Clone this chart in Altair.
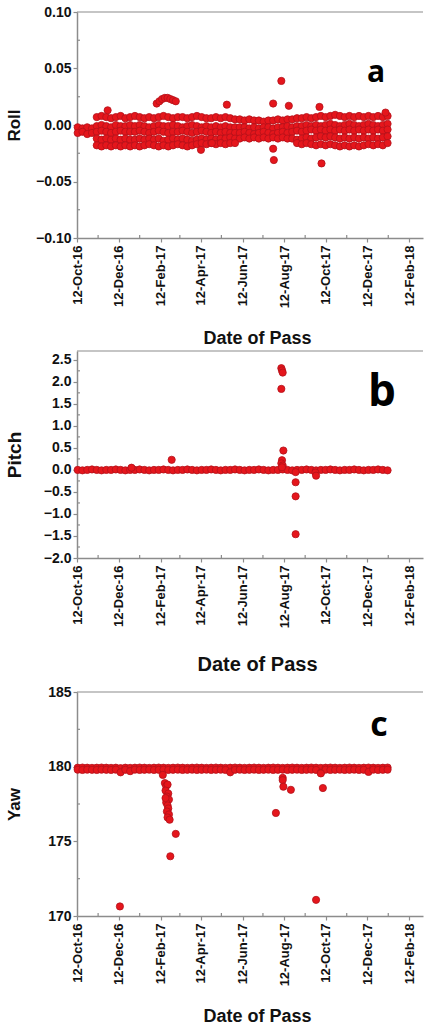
import altair as alt
import pandas as pd

# ---------------- data ----------------
# weekly pass dates for the dense bands
band_dates = [
    "2016-10-13", "2016-10-20", "2016-10-27", "2016-11-03", "2016-11-10", "2016-11-17",
    "2016-11-24", "2016-12-01", "2016-12-08", "2016-12-15", "2016-12-22", "2016-12-29",
    "2017-01-05", "2017-01-12", "2017-01-19", "2017-01-26", "2017-02-02", "2017-02-09",
    "2017-02-16", "2017-02-23", "2017-03-02", "2017-03-09", "2017-03-16", "2017-03-23",
    "2017-03-30", "2017-04-06", "2017-04-13", "2017-04-20", "2017-04-27", "2017-05-04",
    "2017-05-11", "2017-05-18", "2017-05-25", "2017-06-01", "2017-06-08", "2017-06-15",
    "2017-06-22", "2017-06-29", "2017-07-06", "2017-07-13", "2017-07-20", "2017-07-27",
    "2017-08-03", "2017-08-10", "2017-08-17", "2017-08-24", "2017-08-31", "2017-09-07",
    "2017-09-14", "2017-09-21", "2017-09-28", "2017-10-05", "2017-10-12", "2017-10-19",
    "2017-10-26", "2017-11-02", "2017-11-09", "2017-11-16", "2017-11-23", "2017-11-30",
    "2017-12-07", "2017-12-14", "2017-12-21", "2017-12-28", "2018-01-04", "2018-01-11",
]

# Roll band tracks
roll_t1 = [None, None, None, None,
           0.007, 0.008, 0.007, 0.006, 0.007, 0.008, 0.006, 0.007,
           0.008, 0.007, 0.006, 0.007, 0.006, 0.007, 0.008, 0.007, 0.006, 0.007, 0.007,
           0.006, 0.007, 0.008, 0.007, 0.006, 0.006, 0.007, 0.006, 0.007, 0.006, 0.005,
           0.005, 0.004, 0.005, 0.004, 0.004, 0.003, 0.004, 0.004, 0.005, 0.004, 0.005,
           0.005, 0.006, 0.006, 0.007, 0.006, 0.007, 0.008, 0.007, 0.008, 0.009, 0.008,
           0.007, 0.008, 0.007, 0.008, 0.007, 0.008, 0.007, 0.008, 0.007, 0.008]
roll_t2 = [-0.002, -0.003, -0.002, -0.003,
           -0.001, 0.000, -0.001, -0.002, 0.000, -0.001, -0.001, 0.000,
           -0.001, 0.000, -0.001, -0.002, -0.001, 0.000, -0.001, -0.001, 0.000, -0.001, -0.002,
           -0.001, 0.000, -0.001, -0.002, -0.001, -0.002, -0.001, -0.002, -0.001, -0.002, -0.002,
           -0.002, -0.002, -0.003, -0.002, -0.003, -0.002, -0.002, -0.003, -0.002, -0.002, -0.001,
           -0.002, -0.001, -0.001, 0.000, -0.001, 0.000, -0.001, 0.000, 0.001, 0.000, -0.001,
           0.000, 0.001, 0.000, -0.001, 0.000, 0.001, 0.000, -0.001, 0.000, 0.001]
roll_t3 = [-0.007, -0.006, -0.008, -0.007,
           -0.006, -0.005, -0.006, -0.007, -0.006, -0.005, -0.006, -0.006,
           -0.006, -0.005, -0.006, -0.007, -0.006, -0.005, -0.006, -0.007, -0.006, -0.006, -0.005,
           -0.006, -0.007, -0.006, -0.005, -0.006, -0.007, -0.006, -0.007, -0.006, -0.007, -0.007,
           -0.007, -0.006, -0.007, -0.008, -0.007, -0.006, -0.007, -0.008, -0.007, -0.006, -0.007,
           -0.006, -0.005, -0.006, -0.005, -0.004, -0.005, -0.004, -0.005, -0.004, -0.005, -0.004,
           -0.005, -0.004, -0.005, -0.004, -0.005, -0.004, -0.005, -0.004, -0.005, -0.004]
roll_t4 = [None, None, None, None,
           -0.012, -0.013, -0.012, -0.013, -0.012, -0.013, -0.012, -0.013,
           -0.013, -0.012, -0.013, -0.012, -0.013, -0.012, -0.014, -0.013, -0.012, -0.013, -0.012,
           -0.013, -0.014, -0.013, -0.012, -0.013, -0.012, -0.013, -0.012, -0.012, -0.011, -0.012,
           -0.012, -0.011, -0.012, -0.011, -0.012, -0.011, -0.012, -0.011, -0.012, -0.011, -0.012,
           -0.012, -0.013, -0.012, -0.011, -0.012, -0.011, -0.010, -0.011, -0.010, -0.011, -0.012,
           -0.011, -0.012, -0.011, -0.012, -0.011, -0.012, -0.011, -0.012, -0.011, -0.010]
roll_t5 = [None, None, None, None,
           -0.018, -0.019, -0.018, -0.019, -0.018, -0.019, -0.018, -0.019,
           -0.018, -0.019, -0.018, -0.017, -0.018, -0.019, -0.018, -0.019, -0.018, -0.017, -0.018,
           -0.019, -0.018, -0.017, -0.016, -0.017, -0.016, -0.017, -0.016, -0.017, -0.016, -0.016,
           None, None, None, None, None, None, None, None, None, None, None, None,
           -0.016, -0.017, -0.016, -0.017, -0.018, -0.017, -0.018, -0.017, -0.018, -0.019,
           -0.018, -0.019, -0.018, -0.019, -0.018, -0.017, -0.018, -0.017, -0.018, -0.016]
roll_out_dates = ["2016-11-26", "2017-02-06", "2017-02-10", "2017-02-14", "2017-02-18",
                  "2017-02-22", "2017-02-26", "2017-03-02", "2017-03-06", "2017-04-12",
                  "2017-04-28", "2017-05-20", "2017-07-27", "2017-07-27", "2017-07-28",
                  "2017-08-08", "2017-08-19", "2017-10-03", "2017-10-06", "2018-01-08"]
roll_out_vals = [0.013, 0.019, 0.021, 0.023, 0.024,
                 0.024, 0.023, 0.022, 0.021, -0.022,
                 -0.016, 0.018, 0.019, -0.021, -0.031,
                 0.039, 0.017, 0.016, -0.034, 0.011]

# Pitch band
pitch_t1 = [0.00, -0.01, 0.00, 0.01, 0.00, -0.01, 0.00, 0.00, 0.01, 0.00, -0.01, 0.00,
            0.00, 0.01, 0.00, -0.01, 0.00, 0.00, 0.01, 0.00, -0.01, 0.00, 0.00, 0.01,
            0.00, -0.01, 0.00, 0.00, 0.01, 0.00, -0.01, 0.00, 0.00, 0.01, 0.00, -0.01,
            0.00, 0.00, 0.01, 0.00, -0.01, 0.00, 0.00, 0.01, 0.00, -0.01, 0.00, 0.00,
            0.01, 0.00, -0.01, 0.00, 0.00, 0.01, 0.00, -0.01, 0.00, 0.00, 0.01, 0.00,
            -0.01, 0.00, 0.00, 0.01, 0.00, -0.01]
pitch_out_dates = ["2016-12-31", "2017-02-28", "2017-08-08", "2017-08-09", "2017-08-10",
                   "2017-08-08", "2017-08-11", "2017-08-09", "2017-08-08", "2017-08-10",
                   "2017-08-09", "2017-08-29", "2017-08-29", "2017-08-29", "2017-08-29",
                   "2017-09-27", "2017-09-28"]
pitch_out_vals = [0.05, 0.23, 2.31, 2.26, 2.21,
                  1.84, 0.44, 0.22, 0.15, 0.10,
                  0.06, -0.05, -0.28, -0.60, -1.46,
                  -0.06, -0.13]

# Yaw band
yaw_t1 = [179.93, 179.94, 179.93, 179.92, 179.93, 179.94, 179.93, 179.92, 179.93, 179.90,
          179.93, 179.92, 179.93, 179.94, 179.93, 179.92, 179.93, 179.94, 179.93, 179.92,
          179.93, 179.94, 179.93, 179.92, 179.93, 179.94, 179.93, 179.92, 179.93, 179.94,
          179.93, 179.92, 179.93, 179.94, 179.93, 179.92, 179.93, 179.94, 179.93, 179.92,
          179.93, 179.94, 179.93, 179.92, 179.93, 179.94, 179.93, 179.92, 179.93, 179.94,
          179.93, 179.92, 179.93, 179.94, 179.93, 179.92, 179.93, 179.94, 179.93, 179.92,
          179.93, 179.94, 179.93, 179.92, 179.93, 179.94]
yaw_t2 = [179.80, 179.78, 179.80, 179.79, 179.78, 179.80, 179.79, 179.78, 179.80, 179.62,
          179.79, 179.70, 179.80, 179.78, 179.79, 179.80, 179.78, 179.79, 179.80, 179.78,
          179.79, 179.80, 179.78, 179.79, 179.80, 179.78, 179.79, 179.80, 179.78, 179.79,
          179.80, 179.78, 179.62, 179.79, 179.80, 179.78, 179.79, 179.80, 179.78, 179.79,
          179.80, 179.78, 179.79, 179.80, 179.78, 179.79, 179.80, 179.78, 179.79, 179.80,
          179.78, 179.60, 179.80, 179.78, 179.79, 179.80, 179.78, 179.79, 179.80, 179.78,
          179.79, 179.65, 179.80, 179.78, 179.79, 179.80]
yaw_out_dates = ["2016-12-14", "2017-02-15", "2017-02-18", "2017-02-20", "2017-02-22",
                 "2017-02-19", "2017-02-23", "2017-02-21", "2017-02-24", "2017-02-20",
                 "2017-02-22", "2017-02-23", "2017-02-21", "2017-02-24", "2017-02-22",
                 "2017-02-25", "2017-02-19", "2017-02-26", "2017-03-06", "2017-07-31",
                 "2017-08-10", "2017-08-10", "2017-08-11", "2017-08-22", "2017-09-28",
                 "2017-10-08", "2017-10-05"]
yaw_out_vals = [170.64, 179.45, 178.90, 178.70, 178.80,
                178.40, 178.20, 178.00, 177.80, 177.60,
                177.40, 177.20, 177.00, 176.80, 176.60,
                176.45, 177.90, 174.00, 175.50, 176.90,
                179.25, 179.10, 178.66, 178.45, 171.08,
                178.57, 179.55]

# axis ticks
x_tick_dates = [(2016, 10), (2016, 12), (2017, 2), (2017, 4), (2017, 6), (2017, 8),
                (2017, 10), (2017, 12), (2018, 2)]
x_minor_dates = ["2016-11-12", "2017-01-12", "2017-03-12", "2017-05-12", "2017-07-12",
                 "2017-09-12", "2017-11-12", "2018-01-12"]
roll_ticks = [-0.10, -0.05, 0.0, 0.05, 0.10]
roll_minor = [-0.075, -0.025, 0.025, 0.075]
pitch_ticks = [-2.0, -1.5, -1.0, -0.5, 0.0, 0.5, 1.0, 1.5, 2.0, 2.5]
pitch_minor = [-1.75, -1.25, -0.75, -0.25, 0.25, 0.75, 1.25, 1.75, 2.25]
yaw_ticks = [170, 175, 180, 185]
yaw_minor = [172.5, 177.5, 182.5]


def build(tracks, out_dates, out_vals):
    rows = []
    for tr in tracks:
        assert len(tr) == len(band_dates), len(tr)
        for d, v in zip(band_dates, tr):
            if v is not None:
                rows.append({"date": d, "value": v})
    for d, v in zip(out_dates, out_vals):
        rows.append({"date": d, "value": v})
    return pd.DataFrame(rows)


roll_df = build([roll_t1, roll_t2, roll_t3, roll_t4, roll_t5], roll_out_dates, roll_out_vals)
pitch_df = build([pitch_t1], pitch_out_dates, pitch_out_vals)
yaw_df = build([yaw_t1, yaw_t2], yaw_out_dates, yaw_out_vals)

# ---------------- styling ----------------
W = 346
GRAY = "#8c8c8c"
FONT = "Liberation Sans"
x_domain = [alt.DateTime(year=2016, month=10, date=12, utc=True),
            alt.DateTime(year=2018, month=3, date=4, utc=True)]
x_values = [alt.DateTime(year=y, month=m, date=12, utc=True) for y, m in x_tick_dates]


def panel(df, H, ytitle, ytitle_size, yvals, yminor, yfmt, ydomain, letter, letter_size,
          letter_xy, xtitle_size, xtitle_y, spacer=0):
    common = dict(labelFont=FONT, labelFontWeight="bold",
                  labelColor="#111111", domainColor=GRAY, domainWidth=1.5,
                  tickColor=GRAY, tickWidth=1.2, tickSize=4, grid=False,
                  titleFont=FONT, titleFontWeight="bold", titleColor="#111111",
                  labelOverlap=False)
    xscale = alt.Scale(type="utc", domain=x_domain)
    yscale = alt.Scale(domain=ydomain, nice=False, zero=False)
    x = alt.X("date:T", scale=xscale,
              axis=alt.Axis(values=x_values,
                            labelExpr="utcFormat(datum.value, '%d-%b-%y')",
                            labelAngle=270, labelPadding=3, labelFlush=False,
                            labelFontSize=13,
                            title="Date of Pass", titleFontSize=xtitle_size,
                            titleX=180, titleY=xtitle_y, titleAlign="center",
                            titleBaseline="middle", **common))
    y = alt.Y("value:Q", scale=yscale,
              axis=alt.Axis(values=yvals, format=yfmt, labelPadding=2,
                            labelFontSize=14,
                            title=ytitle, titleFontSize=ytitle_size,
                            titleX=-63, titleY=H / 2, titleAngle=270,
                            titleAlign="center", titleBaseline="middle", **common))
    pts = alt.Chart(df).mark_circle(size=52, color="#e5161c", stroke="#b3121a",
                                    strokeWidth=0.8, opacity=1).encode(x=x, y=y)
    one = pd.DataFrame({"t": [letter]})
    txt = alt.Chart(one).mark_text(font="Open Sans", fontWeight="bold",
                                   fontSize=letter_size, color="#000000",
                                   align="center", baseline="middle").encode(
        x=alt.value(letter_xy[0]), y=alt.value(letter_xy[1]), text="t:N")
    border = alt.Chart(one).mark_rule(color=GRAY, strokeWidth=1.2).encode(
        x=alt.value(0), x2=alt.value(W), y=alt.value(0))
    # minor ticks drawn through the same scales (same axis definitions so they merge)
    xm = alt.Chart(pd.DataFrame({"date": x_minor_dates})).mark_rule(
        color=GRAY, strokeWidth=1.2).encode(
        x=x, y=alt.value(H - 3), y2=alt.value(H))
    ym = alt.Chart(pd.DataFrame({"value": yminor})).mark_rule(
        color=GRAY, strokeWidth=1.2).encode(
        y=y, x=alt.value(0), x2=alt.value(3))
    layers = [pts, txt, border, xm, ym]
    if spacer:
        sp = alt.Chart(one).mark_rule(color="#ffffff", strokeOpacity=0).encode(
            x=alt.value(1), y=alt.value(-spacer), y2=alt.value(0))
        layers.append(sp)
    return alt.layer(*layers).properties(width=W, height=H)


pa = panel(roll_df, 226, "Roll", 17, roll_ticks, roll_minor, ".2f",
           [-0.10, 0.10], "a", 30, (299, 61), 18, 100)
pb = panel(pitch_df, 207, "Pitch", 19, pitch_ticks, pitch_minor,
           ".1f", [-2.0, 2.7], "b", 44, (305, 42), 20, 106)
pc = panel(yaw_df, 224, "Yaw", 17, yaw_ticks, yaw_minor, "d",
           [170, 185], "c", 34, (302, 34), 18, 100, spacer=15)

chart = alt.vconcat(pa, pb, pc, spacing=3).configure_view(stroke=None).properties(
    padding={"left": 5, "top": 5, "right": 0, "bottom": 0},
    background="white")

chart.save("out.html", embed_options={"renderer": "svg", "actions": False})
